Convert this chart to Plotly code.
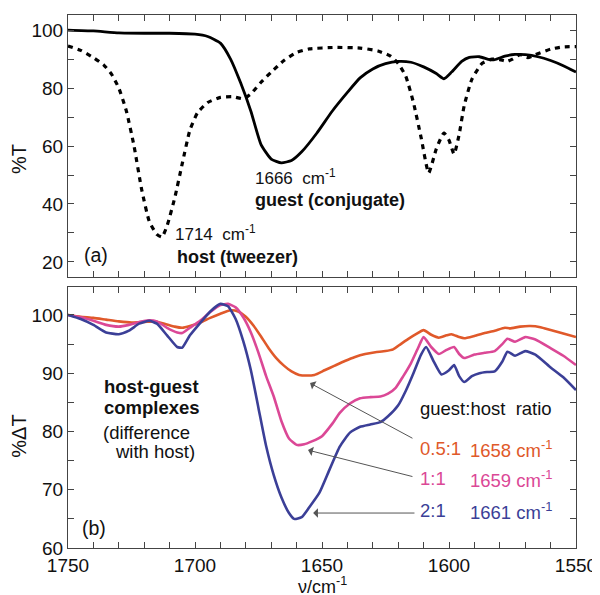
import plotly.graph_objects as go

# ---- Panel (a): %T spectra ----
guest_nu = [1750, 1740, 1730, 1720, 1710, 1700, 1695, 1690, 1686, 1682, 1678, 1674, 1670, 1666, 1662,
            1658, 1652, 1646, 1640, 1635, 1630, 1625, 1620, 1615, 1610, 1605, 1602, 1599, 1595, 1592,
            1588, 1584, 1582, 1578, 1574, 1570, 1565, 1560, 1555, 1550]
guest_T = [100, 99.7, 99.0, 98.9, 98.9, 98.6, 97.8, 95.5, 90.0, 81.7, 72.0, 60.5, 55.5, 54.2, 55.0,
           58.0, 64.5, 72.0, 78.5, 83.5, 86.6, 88.4, 89.2, 88.9, 87.3, 85.0, 83.2, 85.5, 89.2, 90.6,
           90.8, 89.8, 89.8, 91.0, 91.6, 91.5, 90.8, 89.5, 87.7, 85.5]

host_nu = [1750, 1745, 1740, 1736, 1733, 1730, 1727, 1724, 1721, 1718, 1715, 1713, 1711, 1708, 1705,
           1702, 1699, 1695, 1690, 1685, 1681, 1678, 1674, 1670, 1665, 1660, 1655, 1645, 1635, 1628,
           1623, 1620, 1617, 1614, 1611, 1608, 1605, 1602, 1600, 1598, 1596, 1594, 1591, 1587, 1583,
           1580, 1577, 1575, 1572, 1569, 1566, 1560, 1555, 1550]
host_T = [94.5, 93.0, 90.5, 88.0, 85.0, 80.0, 72.0, 60.0, 45.0, 34.0, 29.5, 28.6, 32.5, 42.0, 54.0,
          65.5, 71.5, 75.0, 76.8, 77.0, 76.3, 78.0, 82.0, 85.5, 89.5, 92.3, 93.5, 94.0, 93.8, 92.8,
          91.0, 88.5, 84.0, 75.0, 63.0, 50.7, 59.0, 64.5, 62.0, 57.2, 64.0, 74.0, 83.0, 88.5, 90.0,
          89.8, 89.2, 90.0, 91.5, 90.5, 91.5, 93.4, 94.2, 94.3]

# ---- Panel (b): %dT difference spectra ----
r21_nu = [1750, 1745, 1740, 1735, 1730, 1726, 1722, 1718, 1715, 1711, 1707, 1705, 1702, 1698, 1694,
          1690, 1687, 1684, 1681, 1678, 1675, 1672, 1669, 1666, 1663, 1661, 1658, 1655, 1651, 1647,
          1643, 1639, 1635, 1631, 1627, 1624, 1620, 1617, 1614, 1611, 1609, 1606, 1603, 1600, 1598,
          1596, 1594, 1591, 1588, 1585, 1582, 1579, 1577, 1574, 1570, 1566, 1560, 1555, 1550]
r21_dT = [100, 99.3, 98.3, 97.0, 96.7, 97.3, 98.5, 99.0, 98.5, 96.5, 94.5, 94.4, 96.5, 98.6, 100.6,
          101.9, 101.5, 99.3, 95.5, 90.5, 84.0, 77.5, 72.5, 68.7, 66.0, 65.0, 65.3, 67.0, 69.5, 73.5,
          77.4, 79.8, 80.8, 81.2, 81.6, 82.6, 84.5, 87.0, 90.0, 93.2, 94.5, 92.0, 89.8, 90.5, 91.4,
          89.5, 88.5, 89.5, 90.0, 90.2, 90.3, 92.0, 93.7, 93.0, 93.8, 93.2, 91.0, 89.3, 87.1]

r11_nu = [1750, 1745, 1740, 1735, 1730, 1726, 1722, 1718, 1715, 1711, 1707, 1705, 1702, 1698, 1694,
          1690, 1687, 1684, 1681, 1678, 1675, 1672, 1669, 1666, 1663, 1660, 1657, 1654, 1650, 1646,
          1643, 1639, 1635, 1631, 1627, 1624, 1621, 1618, 1615, 1612, 1610, 1607, 1604, 1601, 1598,
          1596, 1594, 1590, 1586, 1582, 1579, 1577, 1574, 1570, 1566, 1560, 1555, 1550]
r11_dT = [100, 99.6, 99.0, 98.3, 98.0, 98.3, 98.8, 99.1, 98.9, 97.8, 97.0, 96.9, 97.8, 99.0, 100.5,
          101.7, 101.9, 101.3, 99.6, 97.0, 93.5, 89.5, 86.0, 81.8, 78.8, 77.7, 77.8, 78.3, 79.2, 81.3,
          83.2, 84.8, 85.7, 85.9, 86.0, 86.5, 87.5, 89.5, 91.7, 94.5, 96.2, 94.5, 93.3, 94.0, 94.5,
          93.3, 92.6, 93.2, 93.5, 93.8, 95.0, 95.9, 95.4, 96.2, 95.8, 94.3, 93.0, 91.4]

r05_nu = [1750, 1745, 1740, 1735, 1730, 1725, 1720, 1716, 1712, 1708, 1705, 1702, 1698, 1694, 1690,
          1686, 1683, 1680, 1677, 1674, 1671, 1668, 1665, 1662, 1659, 1656, 1653, 1649, 1645, 1641,
          1637, 1633, 1629, 1625, 1622, 1619, 1616, 1613, 1610, 1607, 1604, 1601, 1599, 1596, 1594,
          1590, 1586, 1582, 1578, 1576, 1572, 1568, 1564, 1560, 1555, 1550]
r05_dT = [100, 99.7, 99.5, 99.2, 98.9, 98.7, 98.8, 98.9, 98.5, 98.0, 97.8, 98.1, 98.7, 99.5, 100.2,
          100.8, 100.6, 99.7, 98.2, 96.3, 94.3, 92.6, 91.3, 90.3, 89.7, 89.6, 89.7, 90.5, 91.3, 92.1,
          92.8, 93.3, 93.6, 93.8, 94.1, 95.0, 95.9, 96.7, 97.4, 96.6, 96.1, 96.5, 96.7, 96.2, 96.0,
          96.4, 96.9, 97.3, 97.8, 97.7, 98.0, 98.1, 97.9, 97.4, 96.8, 96.2]

ratio_labels = ["0.5:1", "1:1", "2:1"]
peak_labels = ["1658", "1659", "1661"]
series_colors = ["#E0592A", "#DB4896", "#3B3F97"]

FONT = "Liberation Sans, Arial, Helvetica, sans-serif"
NB = "\u00a0"
TXT = 18.5

fig = go.Figure()
fig.add_trace(go.Scatter(x=host_nu, y=host_T, mode="lines", xaxis="x", yaxis="y",
                         line=dict(color="black", width=3.2, dash="5px,5px", shape="spline", smoothing=0.5),
                         showlegend=False))
fig.add_trace(go.Scatter(x=guest_nu, y=guest_T, mode="lines", xaxis="x", yaxis="y",
                         line=dict(color="black", width=2.8, shape="spline", smoothing=0.5),
                         showlegend=False))
for nu, dT, col in [(r05_nu, r05_dT, series_colors[0]), (r11_nu, r11_dT, series_colors[1]),
                    (r21_nu, r21_dT, series_colors[2])]:
    fig.add_trace(go.Scatter(x=nu, y=dT, mode="lines", xaxis="x2", yaxis="y2",
                             line=dict(color=col, width=2.6, shape="spline", smoothing=0.5),
                             showlegend=False))

axis_common = dict(showline=True, linecolor="#444", linewidth=1, mirror="ticks",
                   ticks="inside", ticklen=6, tickcolor="#444", showgrid=False, zeroline=False,
                   automargin=False,
                   tickfont=dict(family=FONT, size=19, color="#111"))

# page body has an 8px default margin, so the figure is sized/offset to compensate
fig.update_layout(
    width=592, height=587,
    margin=dict(l=60, r=24, t=7, b=47),
    paper_bgcolor="white", plot_bgcolor="white",
    font=dict(family=FONT, color="#111"),
    xaxis=dict(axis_common, range=[1750, 1550], domain=[0, 1], anchor="y",
               dtick=50, showticklabels=False,
               minor=dict(dtick=10, ticks="inside", ticklen=6, tickcolor="#444")),
    yaxis=dict(axis_common, range=[14.8, 105.2], domain=[0.5084, 1], anchor="x",
               dtick=20, tick0=0,
               minor=dict(dtick=10, ticks="inside", ticklen=6, tickcolor="#444")),
    xaxis2=dict(axis_common, range=[1750, 1550], domain=[0, 1], anchor="y2",
                dtick=50,
                minor=dict(dtick=10, ticks="inside", ticklen=6, tickcolor="#444")),
    yaxis2=dict(axis_common, range=[60, 104.8], domain=[0, 0.4897], anchor="x2",
                dtick=10, tick0=0,
                minor=dict(dtick=5, ticks="inside", ticklen=6, tickcolor="#444")),
)

ann = []
def txt(x, y, text, xr="x", yr="y", size=TXT, color="#111", xanchor="left", align="left", **kw):
    d = dict(x=x, y=y, xref=xr, yref=yr, text=text, showarrow=False,
             xanchor=xanchor, yanchor="middle", align=align,
             font=dict(family=FONT, size=size, color=color))
    d.update(kw)
    ann.append(d)

# axis titles
txt(0, 55.5, "%T", xr="paper", yr="y", size=20, xanchor="center", textangle=-90, xshift=-49)
txt(0, 79.1, "%\u0394T", xr="paper", yr="y2", size=20, xanchor="center", textangle=-90, xshift=-49)
txt(0.5, 0, "\u03bd/cm<sup>-1</sup>", xr="paper", yr="paper", size=18, xanchor="center", yshift=-37)

# panel (a)
txt(1677.2, 49.2, "1666" + NB + NB + "cm<sup>-1</sup>", size=17)
txt(1677.2, 41.3, "<b>guest (conjugate)</b>", size=18)
txt(1708.7, 29.9, "1714" + NB + NB + "cm<sup>-1</sup>", size=17)
txt(1708.0, 21.8, "<b>host (tweezer)</b>", size=18)
txt(1744.3, 22.4, "(a)", size=19.5)

# panel (b)
txt(1717.1, 87.65, "<b>host-guest</b>", xr="x2", yr="y2", xanchor="center")
txt(1717.1, 84.2, "<b>complexes</b>", xr="x2", yr="y2", xanchor="center")
txt(1701.2, 79.8, "(difference", xr="x2", yr="y2", xanchor="right")
txt(1699.2, 76.5, "with host)", xr="x2", yr="y2", xanchor="right")
txt(1745.3, 63.5, "(b)", xr="x2", yr="y2", size=19.5)
txt(1612.2, 84.0, "guest:host" + NB + NB + "ratio", xr="x2", yr="y2")
label_y = [77.0, 71.9, 66.4]
for lab, pk, col, yy in zip(ratio_labels, peak_labels, series_colors, label_y):
    txt(1612.2, yy, lab, xr="x2", yr="y2", color=col)
    txt(1592.5, yy, pk + NB + "cm<sup>-1</sup>", xr="x2", yr="y2", color=col)

# arrows: head (data side) and tail (label side)
arrows = [((1654.7, 88.3), (1613.8, 78.7)),
          ((1655.5, 76.8), (1613.8, 72.2)),
          ((1653.5, 66.0), (1613.0, 66.0))]
for (hx, hy), (tx, ty) in arrows:
    ann.append(dict(x=hx, y=hy, xref="x2", yref="y2", ax=tx, ay=ty, axref="x2", ayref="y2",
                    text="", showarrow=True, arrowhead=1, arrowsize=1.6, arrowwidth=1,
                    arrowcolor="#555"))

fig.update_layout(annotations=ann)
fig.write_html("out.html")
